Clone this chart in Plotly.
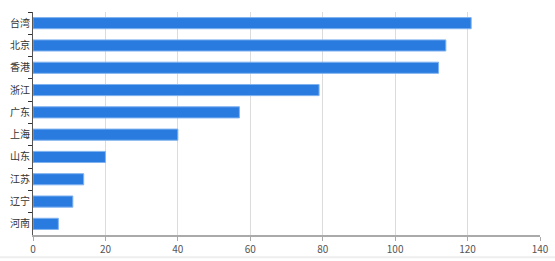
import plotly.graph_objects as go

categories = ["台湾", "北京", "香港", "浙江", "广东", "上海", "山东", "江苏", "辽宁", "河南"]
values = [121, 114, 112, 79, 57, 40, 20, 14, 11, 7]

fig = go.Figure(go.Bar(
    x=values, y=categories, orientation="h",
    marker=dict(color="#2a7be0", line=dict(color="#7fb2ef", width=1)),
    width=0.5,
))
font = "Noto Sans CJK SC, sans-serif"
fig.update_layout(
    width=555, height=261,
    margin=dict(l=33, r=15, t=12, b=26),
    paper_bgcolor="white", plot_bgcolor="white",
    showlegend=False,
    font=dict(family=font, size=10, color="#555"),
)
fig.update_xaxes(
    range=[0, 140], dtick=20, showgrid=True, gridcolor="#dcdcdc", gridwidth=1,
    zeroline=False, showline=True, linecolor="#aaaaaa", linewidth=2,
    ticks="outside", ticklen=4, tickcolor="#aaaaaa", automargin=False,
    tickfont=dict(size=10, color="#555"),
)
fig.update_yaxes(
    categoryorder="array", categoryarray=categories, autorange="reversed",
    showline=True, linecolor="#555", linewidth=1, automargin=False,
    ticks="outside", ticklen=4, tickcolor="#333", tickson="boundaries",
    showgrid=False, tickfont=dict(size=10, color="#333"),
)
fig.add_shape(type="line", xref="paper", yref="paper", x0=-0.07, x1=1.03, y0=-0.1, y1=-0.1,
              line=dict(color="#eeeeee", width=2))
fig.write_html("out.html")
